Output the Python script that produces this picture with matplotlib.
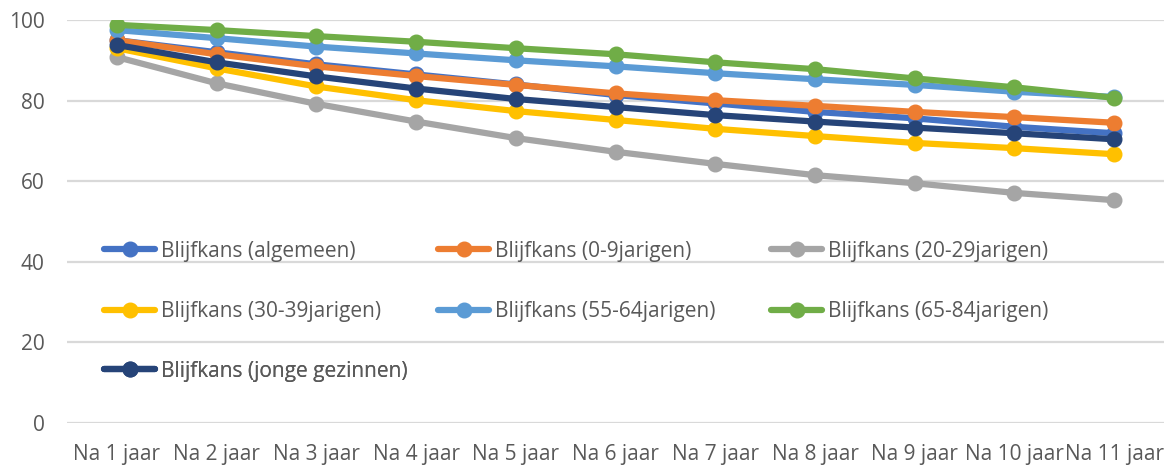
import matplotlib
matplotlib.use("Agg")
import matplotlib.pyplot as plt

categories = ["Na 1 jaar", "Na 2 jaar", "Na 3 jaar", "Na 4 jaar", "Na 5 jaar", "Na 6 jaar",
              "Na 7 jaar", "Na 8 jaar", "Na 9 jaar", "Na 10 jaar", "Na 11 jaar"]

algemeen = [95.0, 92.0, 89.0, 86.5, 84.0, 81.4, 79.3, 77.2, 75.6, 73.5, 71.9]
jarigen_0_9 = [95.0, 91.5, 88.5, 86.1, 83.9, 81.8, 80.1, 78.7, 77.2, 75.9, 74.5]
jarigen_20_29 = [90.8, 84.3, 79.2, 74.8, 70.7, 67.3, 64.3, 61.5, 59.5, 57.1, 55.3]
jarigen_30_39 = [93.0, 88.0, 83.5, 80.1, 77.4, 75.2, 73.0, 71.2, 69.5, 68.2, 66.7]
jarigen_55_64 = [97.5, 95.5, 93.4, 91.7, 90.0, 88.5, 86.8, 85.3, 83.9, 82.2, 80.9]
jarigen_65_84 = [98.8, 97.5, 96.0, 94.6, 93.0, 91.5, 89.5, 87.8, 85.5, 83.3, 80.7]
jonge_gezinnen = [93.8, 89.5, 86.0, 83.0, 80.4, 78.4, 76.4, 74.8, 73.3, 71.9, 70.4]

labels = ["Blijfkans (algemeen)", "Blijfkans (0-9jarigen)", "Blijfkans (20-29jarigen)",
          "Blijfkans (30-39jarigen)", "Blijfkans (55-64jarigen)", "Blijfkans (65-84jarigen)",
          "Blijfkans (jonge gezinnen)"]
series = [algemeen, jarigen_0_9, jarigen_20_29, jarigen_30_39, jarigen_55_64, jarigen_65_84, jonge_gezinnen]
colors = ["#4472C4", "#ED7D31", "#A5A5A5", "#FFC000", "#5B9BD5", "#70AD47", "#264478"]

plt.rcParams['font.family'] = ['Open Sans', 'DejaVu Sans']

W, H = 1175, 471
fig = plt.figure(figsize=(W / 100, H / 100), dpi=100)
ax = fig.add_axes([67 / W, (H - 423) / H, (1164 - 67) / W, (423 - 20) / H])

x = list(range(len(categories)))
lines = []
for vals, lab, col in zip(series, labels, colors):
    ln, = ax.plot(x, vals, color=col, lw=4.5, marker='o', markersize=10.5,
                  solid_capstyle='round', label=lab, zorder=3)
    lines.append(ln)

ax.set_xlim(-0.5, 10.5)
ax.set_ylim(0, 100)
ax.set_yticks([0, 20, 40, 60, 80, 100])
ax.set_xticks(x)
ax.set_xticklabels(categories)
for s in ax.spines.values():
    s.set_visible(False)
ax.grid(axis='y', color='#d9d9d9', lw=1.6, zorder=0)
ax.tick_params(axis='both', length=0, labelcolor='#595959', labelsize=15)
ax.tick_params(axis='y', pad=16)
ax.tick_params(axis='x', pad=15)

# legend entries placed in a 3-column grid (Excel style)
col_x = [104, 438, 771]
row_y = [251, 312, 371]
for i, ln in enumerate(lines):
    r, c = divmod(i, 3)
    lg = ax.legend([ln], [ln.get_label()], loc='center left',
                   bbox_to_anchor=(col_x[c] / W, 1 - row_y[r] / H),
                   bbox_transform=fig.transFigure, frameon=False,
                   fontsize=15, handlelength=2.45, handletextpad=0.28,
                   borderpad=0, borderaxespad=0, labelcolor='#595959')
    ax.add_artist(lg)

fig.savefig("out.png", dpi=100)
